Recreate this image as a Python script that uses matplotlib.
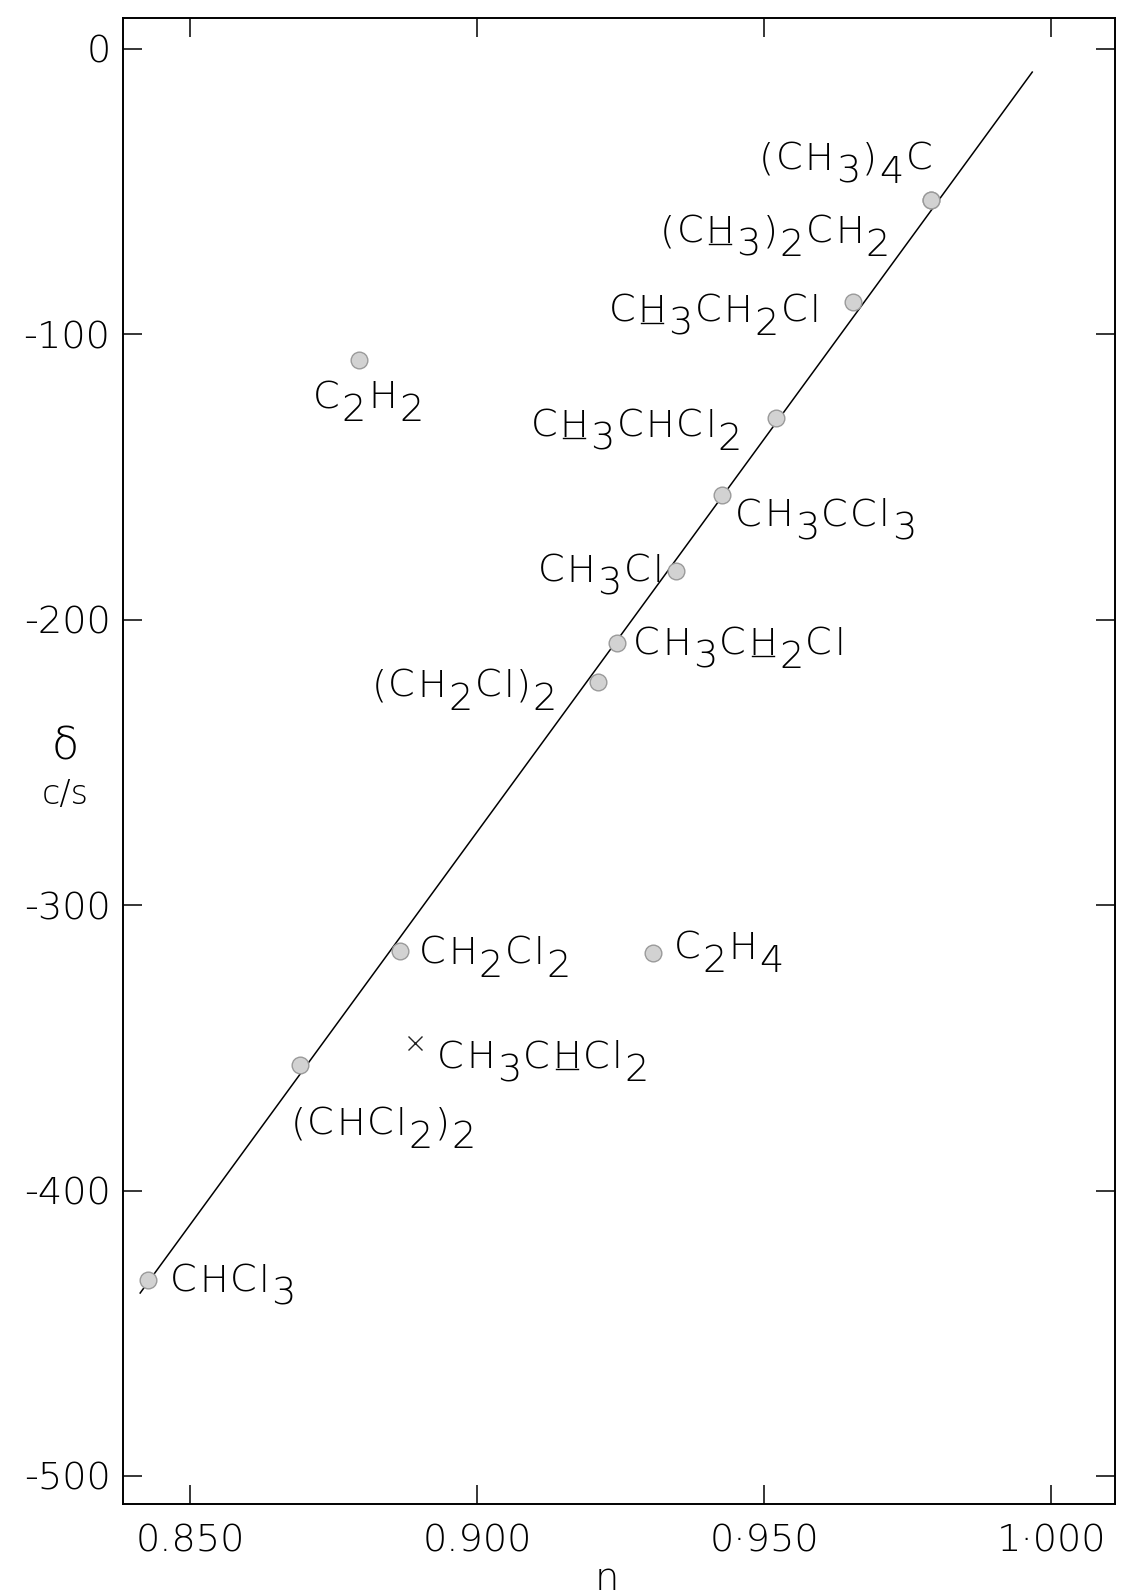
import matplotlib
matplotlib.use("Agg")
import matplotlib.pyplot as plt
from matplotlib.font_manager import FontProperties, findfont, get_font
from matplotlib.lines import Line2D
from matplotlib.transforms import IdentityTransform

plt.rcParams['font.family'] = ['DejaVu Sans']
plt.rcParams['font.weight'] = 'light'

# refractive index n and chemical shift delta (c/s) of each compound
n_values = [0.9791, 0.9791, 0.9655, 0.8794, 0.9521, 0.9427, 0.9347,
            0.9244, 0.9211, 0.8866, 0.9307, 0.8692, 0.8427]
delta_values = [-52.9, -52.9, -88.6, -109.0, -129.3, -156.3, -182.9,
                -208.1, -221.8, -316.0, -316.7, -356.0, -431.3]
# digits are written as subscripts, '*' underlines the following H
compounds = ['(CH3)4C', '(C*H3)2CH2', 'C*H3CH2Cl', 'C2H2', 'C*H3CHCl2',
             'CH3CCl3', 'CH3Cl', 'CH3C*H2Cl', '(CH2Cl)2', 'CH2Cl2', 'C2H4',
             '(CHCl2)2', 'CHCl3']

# the CH proton of CH3CHCl2, plotted with a cross
cross_n = [0.8892]
cross_delta = [-348.3]
cross_label = 'CH3C*HCl2'

# fitted straight line through the chlorinated compounds
fit_n = [0.8413, 0.9967]
fit_delta = [-435.9, -8.1]

x_ticks = [0.85, 0.90, 0.95, 1.00]
x_ticklabels = ['0.850', '0.900', '0\u00b7950', '1\u00b7000']
y_ticks = [0, -100, -200, -300, -400, -500]
y_ticklabels = ['0', '-100', '-200', '-300', '-400', '-500']

# label placement: (dx, dy) in pixels from the point, horizontal alignment
label_pos = [(1, 30, 'right'), (-41, -43, 'right'), (-33, -20, 'right'),
             (-46, -48, 'left'), (-34, -19, 'right'), (13, -31, 'left'),
             (-13, -11, 'right'), (16, -12, 'left'), (-41, -15, 'right'),
             (19, -13, 'left'), (20, -6, 'left'), (-10, -70, 'left'),
             (22, -12, 'left')]

fs = 27.6
track = 2.0     # extra space between letters, px
sub_drop = 13   # subscripts sit this far below the baseline, px

fig = plt.figure(figsize=(11.28, 15.95), dpi=100)
ax = fig.add_axes([0.109, 0.0571, 0.8794, 0.9317])

label_prop = FontProperties(family='DejaVu Sans', weight='light', size=fs)
font = get_font(findfont(label_prop))


def advance(ch):
    font.set_size(fs, fig.dpi)
    glyph = font.load_char(ord(ch))
    return glyph.linearHoriAdvance / 65536.0


def draw_formula(n, d, spec, dx, dy, ha):
    chars = []
    under = False
    for ch in spec:
        if ch == '*':
            under = True
            continue
        chars.append((ch, ch.isdigit(), under))
        under = False
    widths = [advance(c) for c, _, _ in chars]
    total = sum(widths) + track * (len(chars) - 1)
    x = dx if ha == 'left' else dx - total
    px, py = ax.transData.transform((n, d))
    for (ch, sub, ul), w in zip(chars, widths):
        y = dy - sub_drop if sub else dy
        ax.annotate(ch, (n, d), xytext=(x, y), textcoords='offset pixels',
                    ha='left', va='baseline', fontproperties=label_prop)
        if ul:
            fig.add_artist(Line2D([px + x + 4, px + x + w - 3],
                                  [py + y - 1, py + y - 1],
                                  transform=IdentityTransform(),
                                  color='black', lw=1.0))
        x += w + track


ax.set_xlim(0.8383, 1.0111)
ax.set_ylim(-509.8, 10.9)

ax.plot(fit_n, fit_delta, color='black', lw=1.1)
ax.plot(n_values, delta_values, 'o', ms=12, mfc='#d2d2d2', mec='#9a9a9a',
        mew=1.0, zorder=3)
ax.plot(cross_n, cross_delta, 'x', ms=10.5, color='#222222', mew=1.0)

for n, d, name, (dx, dy, ha) in zip(n_values, delta_values, compounds, label_pos):
    draw_formula(n, d, name, dx, dy, ha)
draw_formula(cross_n[0], cross_delta[0], cross_label, 22, -25, 'left')

ax.set_xticks(x_ticks)
ax.set_xticklabels(x_ticklabels)
ax.set_yticks(y_ticks)
ax.set_yticklabels(y_ticklabels)
ax.tick_params(direction='in', length=14, width=1.1, labelsize=fs,
               top=True, right=True)
ax.tick_params(axis='x', pad=14)
ax.tick_params(axis='y', pad=9)
for s in ax.spines.values():
    s.set_linewidth(1.4)

# axis titles
fig.text(65 / 1128, 1 - 747 / 1595, '\u03b4', fontsize=32, ha='center', va='center')
fig.text(65 / 1128, 1 - 794 / 1595, 'c/s', fontsize=24, ha='center', va='center')
fig.text(607 / 1128, 1 - 1580 / 1595, 'n', fontsize=fs, ha='center', va='center')

fig.savefig('out.png', dpi=100)
